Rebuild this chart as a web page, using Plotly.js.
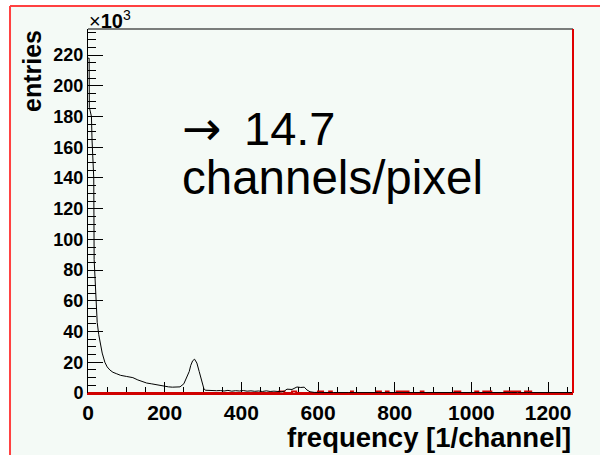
<!DOCTYPE html>
<html>
<head>
<meta charset="utf-8">
<script src="https://cdn.plot.ly/plotly-3.0.1.min.js"></script>
<style>html,body{margin:0;padding:0;background:#fff;}#chart{width:600px;height:455px;}</style>
</head>
<body>
<div id="chart"></div>
<script>
// Spectrum (entries in units of 10^3)
const freq = [0,3,3.5,9,10.5,15,16,21,22,24,28,32,37,44,50,57,65,75,85,100,117,130,140,153,165,175,187,200,210,220,231,240,250,258,264,268,273,278,284,290,297,302,306,315,325,335,345,355,365,375,385,395,405,415,425,435,445,455,465,475,485,495,505,512,519,532,545,555,564,571,579,590,600,640,680,720,760,800,840,880,920,960,1000,1040,1080,1120,1160,1200,1240,1265];
const entries = [218,218,186,180,165,140,87,60,50,46,38,32,26,20,17,15,13.5,12.5,11.5,10.8,10,8.5,7.5,6.5,6,5.5,5,4.5,4,3.8,3.8,4,6,10,14,18,21,22,19.5,14,8.5,3,1.8,1.6,1.8,1.5,1.6,1.3,1.7,1.2,1.5,1.3,1.6,1.2,1.4,1.1,1.3,1.0,1.4,1.0,1.2,0.9,0.8,1.2,2.5,2.3,3.9,3.6,3.8,2,0.8,0.4,0.3,0.3,0.25,0.3,0.25,0.3,0.3,0.25,0.3,0.3,0.25,0.3,0.3,0.25,0.3,0.3,0.25,0.3];
// Second (red) histogram: mostly zero with small bumps
const redFreq = [0,499,512,532,543,600,613,629,636,686,691,753,764,777,784,805,836,868,875,956,971,1010,1018,1031,1052,1086,1109,1114,1127,1140,1156,1265];
const redEntries = [0,1,0,1,0,1,0,1,0,1,0,1,0,1,0,1,0,1,0,1,0,1,0,1,0,1,0,1,0,1,0,0];
const yTickVals = [0,20,40,60,80,100,120,140,160,180,200,220];
const xTickVals = [0,200,400,600,800,1000,1200];

const BG = '#f4faf6';
const FONT = 'Liberation Sans, Arial, sans-serif';

const traces = [
  {x: redFreq, y: redEntries, type: 'scatter', mode: 'lines', line: {color: '#d00000', width: 2, shape: 'hv'}, hoverinfo: 'skip'},
  {x: freq, y: entries, type: 'scatter', mode: 'lines', line: {color: '#000', width: 1}, hoverinfo: 'skip'}
];

const layout = {
  width: 600, height: 455,
  margin: {l: 88, r: 27, t: 29, b: 62, pad: 0},
  paper_bgcolor: '#ffffff',
  plot_bgcolor: BG,
  showlegend: false,
  font: {family: FONT, color: '#000'},
  xaxis: {
    range: [0, 1265], showgrid: false, zeroline: false,
    showline: true, linecolor: '#d00000', linewidth: 2, layer: 'below traces',
    tickmode: 'array', tickvals: xTickVals, ticktext: xTickVals.map(String),
    ticks: 'inside', ticklen: 11, tickcolor: '#000', tickwidth: 1,
    minor: {dtick: 50, tick0: 0, ticks: 'inside', ticklen: 6, tickcolor: '#000', tickwidth: 1, showgrid: false},
    tickfont: {family: FONT, size: 21, weight: 'bold', color: '#000'}
  },
  yaxis: {
    range: [0, 237], showgrid: false, zeroline: false,
    showline: true, linecolor: '#000', linewidth: 1, layer: 'below traces',
    tickmode: 'array', tickvals: yTickVals, ticktext: yTickVals.map(String),
    ticks: 'inside', ticklen: 15, tickcolor: '#000', tickwidth: 1,
    minor: {dtick: 5, tick0: 0, ticks: 'inside', ticklen: 8, tickcolor: '#000', tickwidth: 1, showgrid: false},
    tickfont: {family: FONT, size: 18, weight: 'bold', color: '#000'}
  },
  shapes: [
    {type: 'rect', xref: 'paper', yref: 'paper', x0: -0.1608, x1: 1.06, y0: -0.171, y1: 1.0632,
     fillcolor: BG, line: {width: 0}, layer: 'below'},
    {type: 'line', xref: 'paper', yref: 'paper', x0: -0.1608, x1: -0.1608, y0: -0.171, y1: 1.0632, line: {color: '#ff4040', width: 2}},
    {type: 'line', xref: 'paper', yref: 'paper', x0: -0.1608, x1: 1.06, y0: 1.0632, y1: 1.0632, line: {color: '#ff4040', width: 2}},
    {type: 'line', xref: 'paper', yref: 'paper', x0: 0, x1: 1, y0: 1, y1: 1, line: {color: '#000', width: 1}},
    {type: 'line', xref: 'paper', yref: 'paper', x0: 1, x1: 1, y0: 0, y1: 1, line: {color: '#e00000', width: 2}}
  ],
  annotations: [
    {text: '×<b>10</b><sup>3</sup>', xref: 'paper', yref: 'paper', x: -0.002, y: 0.986, xanchor: 'left', yanchor: 'bottom',
     showarrow: false, font: {family: FONT, size: 20, color: '#000'}},
    {text: '→', xref: 'paper', yref: 'paper', x: 0.19, y: 0.7253, xanchor: 'left', yanchor: 'middle',
     showarrow: false, font: {family: 'DejaVu Sans', size: 47, color: '#000'}},
    {text: '14.7', xref: 'paper', yref: 'paper', x: 0.318, y: 0.7253, xanchor: 'left', yanchor: 'middle',
     showarrow: false, font: {family: FONT, size: 47, color: '#000'}},
    {text: 'channels/pixel', xref: 'paper', yref: 'paper', x: 0.19, y: 0.5907, xanchor: 'left', yanchor: 'middle',
     showarrow: false, font: {family: FONT, size: 47.5, color: '#000'}},
    {text: 'frequency [1/channel]', xref: 'paper', yref: 'paper', x: 1.0, y: -0.122, xanchor: 'right', yanchor: 'middle',
     showarrow: false, font: {family: FONT, size: 27.5, weight: 'bold', color: '#000'}},
    {text: 'entries', xref: 'paper', yref: 'paper', x: -0.1155, y: 1.0027, xanchor: 'center', yanchor: 'top', textangle: -90,
     showarrow: false, font: {family: FONT, size: 25, weight: 'bold', color: '#000'}}
  ]
};

Plotly.newPlot('chart', traces, layout, {staticPlot: true, displayModeBar: false});
</script>
</body>
</html>
